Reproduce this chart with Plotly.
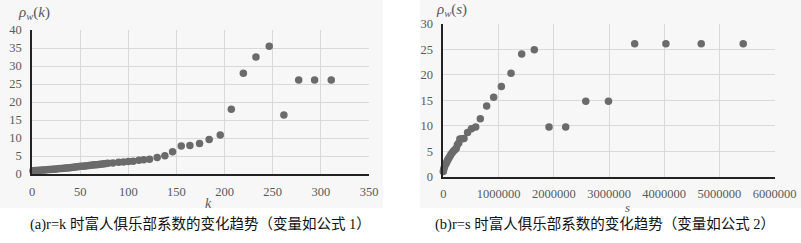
import plotly.graph_objects as go

# ---- data: left chart (r = k) ----
k_vals = [1, 3, 5, 7, 9, 11, 13, 15, 17, 19, 21, 23, 25, 27, 29, 31, 33, 35, 37, 39,
          41, 43, 45, 47, 49, 51, 53, 55, 57, 59, 61, 63, 65, 67, 69, 71, 73, 75, 77, 79,
          84, 90, 95, 100, 105, 111, 116, 122, 130, 138,
          146, 155, 164, 174, 184, 195.5, 207, 219.5, 232.6, 246.4, 261.6, 277, 293.5, 310.8]
rho_k = [0.90, 0.95, 1.00, 1.03, 1.07, 1.10, 1.14, 1.18, 1.22, 1.26, 1.30, 1.35, 1.40, 1.45, 1.50,
         1.55, 1.60, 1.65, 1.70, 1.76, 1.82, 1.88, 1.94, 2.00, 2.06, 2.12, 2.18, 2.24, 2.30, 2.36,
         2.42, 2.48, 2.54, 2.60, 2.66, 2.72, 2.78, 2.84, 2.90, 2.96,
         3.05, 3.25, 3.35, 3.45, 3.55, 3.80, 3.95, 4.10, 4.55, 5.05,
         6.2, 7.8, 7.9, 8.5, 9.6, 10.8, 18.0, 28.0, 32.5, 35.5, 16.4, 26.1, 26.1, 26.1]

# ---- data: right chart (r = s) ----
s_vals = [0, 8000, 20000, 35000, 50000, 65000, 80000, 95000, 115000, 135000, 160000, 185000,
          210000, 235000, 255000, 280000, 300000, 340000, 375000, 440000, 510000, 586000,
          670000, 785000, 912000, 1051000, 1226000, 1419000, 1648000, 1914000, 2216000,
          2580000, 2990000, 3465000, 4030000, 4670000, 5430000]
rho_s = [1.0, 1.45, 1.9, 2.3, 2.6, 2.95, 3.3, 3.6, 3.9, 4.3, 4.7, 5.05, 5.3, 5.6, 6.3, 6.6,
         7.4, 7.45, 7.5, 8.7, 9.4, 9.76, 11.4, 13.9, 15.6, 17.7, 20.3, 24.1, 24.95, 9.76, 9.76,
         14.8, 14.8, 26.1, 26.1, 26.1, 26.1]

caption_a = "(a)r=k 时富人俱乐部系数的变化趋势（变量如公式 1）"
caption_b = "(b)r=s 时富人俱乐部系数的变化趋势（变量如公式 2）"

W, H = 801, 243
MK = dict(color="#6b6b6b", size=7.5)
SERIF = "'Liberation Serif', 'Times New Roman', serif"
CAPF = "'Liberation Serif', 'Noto Sans CJK SC', serif"
TICKF = dict(family=SERIF, size=12.5, color="#595959")

fig = go.Figure()
fig.add_trace(go.Scatter(x=k_vals, y=rho_k, mode="markers", marker=MK,
                         xaxis="x", yaxis="y", cliponaxis=False, showlegend=False))
fig.add_trace(go.Scatter(x=s_vals, y=rho_s, mode="markers", marker=MK,
                         xaxis="x2", yaxis="y2", cliponaxis=False, showlegend=False))

def px(x):
    return x / W

def py(y):
    return 1 - y / H

axis_common = dict(showgrid=True, gridcolor="#d9d9d9", gridwidth=1, zeroline=False,
                   ticks="outside", tickcolor="rgba(0,0,0,0)", tickfont=TICKF, fixedrange=True,
                   showline=True, linecolor="#222222", linewidth=1.5, automargin=False)

fig.update_layout(
    width=W, height=H,
    margin=dict(l=0, r=0, t=0, b=0, autoexpand=False),
    paper_bgcolor="white",
    plot_bgcolor="white",
    xaxis=dict(domain=[px(32), px(369)], range=[0, 350], dtick=50, anchor="y",
               ticklen=5, **axis_common),
    yaxis=dict(domain=[py(174), py(30)], range=[0, 40], dtick=5, anchor="x",
               ticklen=6, **axis_common),
    xaxis2=dict(domain=[px(443.3), px(774.7)], range=[0, 6000000], dtick=1000000,
                tickformat="d", anchor="y2", ticklen=5, **axis_common),
    yaxis2=dict(domain=[py(176.7), py(24)], range=[0, 30], dtick=5, anchor="x2",
                ticklen=6, **axis_common),
    shapes=[
        dict(type="rect", xref="paper", yref="paper", x0=0, x1=px(383), y0=py(208), y1=1,
             fillcolor="#f7f7f7", line=dict(width=0), layer="below"),
        dict(type="rect", xref="paper", yref="paper", x0=px(420), x1=1, y0=py(208), y1=1,
             fillcolor="#f7f7f7", line=dict(width=0), layer="below"),
    ],
    annotations=[
        dict(text="<i>ρ</i><sub><i>w</i></sub>(<i>k</i>)", xref="paper", yref="paper",
             x=px(16), y=py(13), xanchor="left", yanchor="middle", showarrow=False,
             font=dict(family=SERIF, size=15, color="#595959")),
        dict(text="<i>ρ</i><sub><i>w</i></sub>(<i>s</i>)", xref="paper", yref="paper",
             x=px(434), y=py(10), xanchor="left", yanchor="middle", showarrow=False,
             font=dict(family=SERIF, size=15, color="#595959")),
        dict(text="<i>k</i>", xref="paper", yref="paper", x=px(208), y=py(203),
             xanchor="center", yanchor="middle", showarrow=False,
             font=dict(family=SERIF, size=14, color="#595959")),
        dict(text="<i>s</i>", xref="paper", yref="paper", x=px(627), y=py(207),
             xanchor="center", yanchor="middle", showarrow=False,
             font=dict(family=SERIF, size=13, color="#595959")),
        dict(text=caption_a, xref="paper", yref="paper", x=px(200), y=py(224),
             xanchor="center", yanchor="middle", showarrow=False,
             font=dict(family=CAPF, size=14.5, color="#111111")),
        dict(text=caption_b, xref="paper", yref="paper", x=px(605), y=py(224),
             xanchor="center", yanchor="middle", showarrow=False,
             font=dict(family=CAPF, size=14.5, color="#111111")),
    ],
)

fig.write_html(
    "out.html",
    config={"displayModeBar": False},
    post_script="document.body.style.margin='0';document.body.style.overflow='hidden';",
)
